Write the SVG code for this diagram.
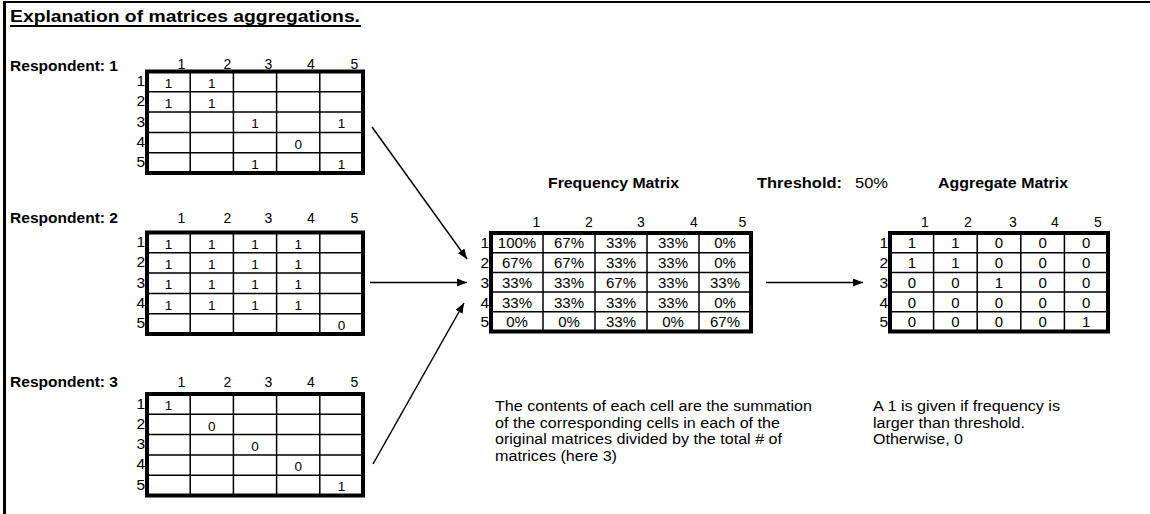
<svg xmlns="http://www.w3.org/2000/svg" width="1150" height="514" viewBox="0 0 1150 514">
<style>
text{font-family:"Liberation Sans",Arial,sans-serif;fill:#000}
.t{font-size:17px;font-weight:bold}
.b{font-size:14px;font-weight:bold}
.p{font-size:14px}
.h{font-size:14px;text-anchor:middle}
.rl{font-size:15.5px;text-anchor:end}
.v{font-size:13.5px;text-anchor:middle}
.fv{font-size:15px;text-anchor:middle}
.outer{fill:#fff;stroke:#000;stroke-width:4}
.inner{stroke:#000;stroke-width:1.5;fill:none}
.conn{stroke:#000;stroke-width:1.5;fill:none;marker-end:url(#ah)}
</style>
<defs>
<marker id="ah" markerUnits="userSpaceOnUse" markerWidth="11" markerHeight="9" refX="10" refY="4" orient="auto">
<path d="M0,0 L10,4 L0,8 z" fill="#000"/>
</marker>
</defs>
<rect width="1150" height="514" fill="#fff"/>
<g id="frame">
<line x1="3" y1="2" x2="1150" y2="2" stroke="#000" stroke-width="2"/>
<line x1="4.5" y1="1" x2="4.5" y2="514" stroke="#000" stroke-width="3"/>
</g>
<g id="title">
<text class="t" x="10" y="22" textLength="350" lengthAdjust="spacingAndGlyphs">Explanation of matrices aggregations.</text>
<line x1="10" y1="26" x2="361" y2="26" stroke="#000" stroke-width="2"/>
</g>

<g id="respondent1">
<text class="b" x="10" y="70.5" textLength="108" lengthAdjust="spacingAndGlyphs">Respondent: 1</text>
<text class="h" x="181.5" y="68.5">1</text><text class="h" x="227.5" y="68.5">2</text><text class="h" x="268.5" y="68.5">3</text><text class="h" x="311" y="68.5">4</text><text class="h" x="354.5" y="68.5">5</text>
<rect class="outer" x="147" y="71.5" width="216" height="101.5"/>
<path class="inner" d="M190.2,71.5V173M233.4,71.5V173M276.6,71.5V173M319.8,71.5V173M147,91.8H363M147,112.1H363M147,132.4H363M147,152.7H363"/>
<text class="rl" x="145" y="86">1</text><text class="rl" x="145" y="106.3">2</text><text class="rl" x="145" y="126.6">3</text><text class="rl" x="145" y="146.9">4</text><text class="rl" x="145" y="167.2">5</text>
<text class="v" x="168.6" y="87.6">1</text><text class="v" x="211.8" y="87.6">1</text>
<text class="v" x="168.6" y="108">1</text><text class="v" x="211.8" y="108">1</text>
<text class="v" x="255" y="128.3">1</text><text class="v" x="341.4" y="128.3">1</text>
<text class="v" x="298.2" y="148.6">0</text>
<text class="v" x="255" y="168.9">1</text><text class="v" x="341.4" y="168.9">1</text>
</g>

<g id="respondent2">
<text class="b" x="10" y="223" textLength="108" lengthAdjust="spacingAndGlyphs">Respondent: 2</text>
<text class="h" x="181.5" y="223">1</text><text class="h" x="227.5" y="223">2</text><text class="h" x="268.5" y="223">3</text><text class="h" x="311" y="223">4</text><text class="h" x="354.5" y="223">5</text>
<rect class="outer" x="147" y="232.5" width="216" height="101.5"/>
<path class="inner" d="M190.2,232.5V334M233.4,232.5V334M276.6,232.5V334M319.8,232.5V334M147,252.8H363M147,273.1H363M147,293.4H363M147,313.7H363"/>
<text class="rl" x="145" y="247">1</text><text class="rl" x="145" y="267.3">2</text><text class="rl" x="145" y="287.6">3</text><text class="rl" x="145" y="307.9">4</text><text class="rl" x="145" y="328.2">5</text>
<text class="v" x="168.6" y="248.6">1</text><text class="v" x="211.8" y="248.6">1</text><text class="v" x="255" y="248.6">1</text><text class="v" x="298.2" y="248.6">1</text>
<text class="v" x="168.6" y="269">1</text><text class="v" x="211.8" y="269">1</text><text class="v" x="255" y="269">1</text><text class="v" x="298.2" y="269">1</text>
<text class="v" x="168.6" y="289.3">1</text><text class="v" x="211.8" y="289.3">1</text><text class="v" x="255" y="289.3">1</text><text class="v" x="298.2" y="289.3">1</text>
<text class="v" x="168.6" y="309.6">1</text><text class="v" x="211.8" y="309.6">1</text><text class="v" x="255" y="309.6">1</text><text class="v" x="298.2" y="309.6">1</text>
<text class="v" x="341.4" y="329.9">0</text>
</g>

<g id="respondent3">
<text class="b" x="10" y="386.5" textLength="108" lengthAdjust="spacingAndGlyphs">Respondent: 3</text>
<text class="h" x="181.5" y="386.5">1</text><text class="h" x="227.5" y="386.5">2</text><text class="h" x="268.5" y="386.5">3</text><text class="h" x="311" y="386.5">4</text><text class="h" x="354.5" y="386.5">5</text>
<rect class="outer" x="147" y="394" width="216" height="101.5"/>
<path class="inner" d="M190.2,394V495.5M233.4,394V495.5M276.6,394V495.5M319.8,394V495.5M147,414.3H363M147,434.6H363M147,454.9H363M147,475.2H363"/>
<text class="rl" x="145" y="408.5">1</text><text class="rl" x="145" y="428.8">2</text><text class="rl" x="145" y="449.1">3</text><text class="rl" x="145" y="469.4">4</text><text class="rl" x="145" y="489.7">5</text>
<text class="v" x="168.6" y="410.2">1</text>
<text class="v" x="211.8" y="430.5">0</text>
<text class="v" x="255" y="450.8">0</text>
<text class="v" x="298.2" y="471">0</text>
<text class="v" x="341.4" y="491.4">1</text>
</g>

<g id="frequency">
<text class="b" x="548" y="188" textLength="131" lengthAdjust="spacingAndGlyphs">Frequency Matrix</text>
<text class="h" x="536.5" y="226.5">1</text><text class="h" x="589" y="226.5">2</text><text class="h" x="641" y="226.5">3</text><text class="h" x="694" y="226.5">4</text><text class="h" x="742.5" y="226.5">5</text>
<rect class="outer" x="491" y="233" width="260" height="98.5"/>
<path class="inner" d="M543,233V331.5M595,233V331.5M647,233V331.5M699,233V331.5M491,252.7H751M491,272.4H751M491,292.1H751M491,311.8H751"/>
<text class="rl" x="489" y="248.4">1</text><text class="rl" x="489" y="268">2</text><text class="rl" x="489" y="287.8">3</text><text class="rl" x="489" y="307.5">4</text><text class="rl" x="489" y="327.2">5</text>
<text class="fv" x="517" y="248.4">100%</text><text class="fv" x="569" y="248.4">67%</text><text class="fv" x="621" y="248.4">33%</text><text class="fv" x="673" y="248.4">33%</text><text class="fv" x="725" y="248.4">0%</text>
<text class="fv" x="517" y="268">67%</text><text class="fv" x="569" y="268">67%</text><text class="fv" x="621" y="268">33%</text><text class="fv" x="673" y="268">33%</text><text class="fv" x="725" y="268">0%</text>
<text class="fv" x="517" y="287.8">33%</text><text class="fv" x="569" y="287.8">33%</text><text class="fv" x="621" y="287.8">67%</text><text class="fv" x="673" y="287.8">33%</text><text class="fv" x="725" y="287.8">33%</text>
<text class="fv" x="517" y="307.5">33%</text><text class="fv" x="569" y="307.5">33%</text><text class="fv" x="621" y="307.5">33%</text><text class="fv" x="673" y="307.5">33%</text><text class="fv" x="725" y="307.5">0%</text>
<text class="fv" x="517" y="327.2">0%</text><text class="fv" x="569" y="327.2">0%</text><text class="fv" x="621" y="327.2">33%</text><text class="fv" x="673" y="327.2">0%</text><text class="fv" x="725" y="327.2">67%</text>
<text class="p" x="495" y="411" textLength="317" lengthAdjust="spacingAndGlyphs">The contents of each cell are the summation</text>
<text class="p" x="495" y="427.5" textLength="285" lengthAdjust="spacingAndGlyphs">of the corresponding cells in each of the</text>
<text class="p" x="495" y="444" textLength="287" lengthAdjust="spacingAndGlyphs">original matrices divided by the total # of</text>
<text class="p" x="495" y="460.5" textLength="122" lengthAdjust="spacingAndGlyphs">matrices (here 3)</text>
</g>

<g id="threshold">
<text class="b" x="757" y="188" textLength="85" lengthAdjust="spacingAndGlyphs">Threshold:</text>
<text class="p" x="855" y="188" textLength="33" lengthAdjust="spacingAndGlyphs">50%</text>
</g>

<g id="aggregate">
<text class="b" x="938" y="188" textLength="130" lengthAdjust="spacingAndGlyphs">Aggregate Matrix</text>
<text class="h" x="925" y="226.5">1</text><text class="h" x="968" y="226.5">2</text><text class="h" x="1013" y="226.5">3</text><text class="h" x="1055" y="226.5">4</text><text class="h" x="1098" y="226.5">5</text>
<rect class="outer" x="890" y="233" width="218" height="98.5"/>
<path class="inner" d="M933.6,233V331.5M977.2,233V331.5M1020.8,233V331.5M1064.4,233V331.5M890,252.7H1108M890,272.4H1108M890,292.1H1108M890,311.8H1108"/>
<text class="rl" x="888" y="248.4">1</text><text class="rl" x="888" y="268">2</text><text class="rl" x="888" y="287.8">3</text><text class="rl" x="888" y="307.5">4</text><text class="rl" x="888" y="327.2">5</text>
<text class="fv" x="911.8" y="248.4">1</text><text class="fv" x="955.4" y="248.4">1</text><text class="fv" x="999" y="248.4">0</text><text class="fv" x="1042.6" y="248.4">0</text><text class="fv" x="1086.2" y="248.4">0</text>
<text class="fv" x="911.8" y="268">1</text><text class="fv" x="955.4" y="268">1</text><text class="fv" x="999" y="268">0</text><text class="fv" x="1042.6" y="268">0</text><text class="fv" x="1086.2" y="268">0</text>
<text class="fv" x="911.8" y="287.8">0</text><text class="fv" x="955.4" y="287.8">0</text><text class="fv" x="999" y="287.8">1</text><text class="fv" x="1042.6" y="287.8">0</text><text class="fv" x="1086.2" y="287.8">0</text>
<text class="fv" x="911.8" y="307.5">0</text><text class="fv" x="955.4" y="307.5">0</text><text class="fv" x="999" y="307.5">0</text><text class="fv" x="1042.6" y="307.5">0</text><text class="fv" x="1086.2" y="307.5">0</text>
<text class="fv" x="911.8" y="327.2">0</text><text class="fv" x="955.4" y="327.2">0</text><text class="fv" x="999" y="327.2">0</text><text class="fv" x="1042.6" y="327.2">0</text><text class="fv" x="1086.2" y="327.2">1</text>
<text class="p" x="873" y="411" textLength="187" lengthAdjust="spacingAndGlyphs">A 1 is given if frequency is</text>
<text class="p" x="873" y="427.5" textLength="152" lengthAdjust="spacingAndGlyphs">larger than threshold.</text>
<text class="p" x="873" y="444" textLength="90" lengthAdjust="spacingAndGlyphs">Otherwise, 0</text>
</g>

<g id="connectors">
<line class="conn" x1="372" y1="127" x2="467" y2="259"/>
<line class="conn" x1="370" y1="282.5" x2="467" y2="282.5"/>
<line class="conn" x1="373" y1="464" x2="464" y2="303"/>
<line class="conn" x1="766" y1="282.5" x2="863" y2="282.5"/>
</g>
</svg>
